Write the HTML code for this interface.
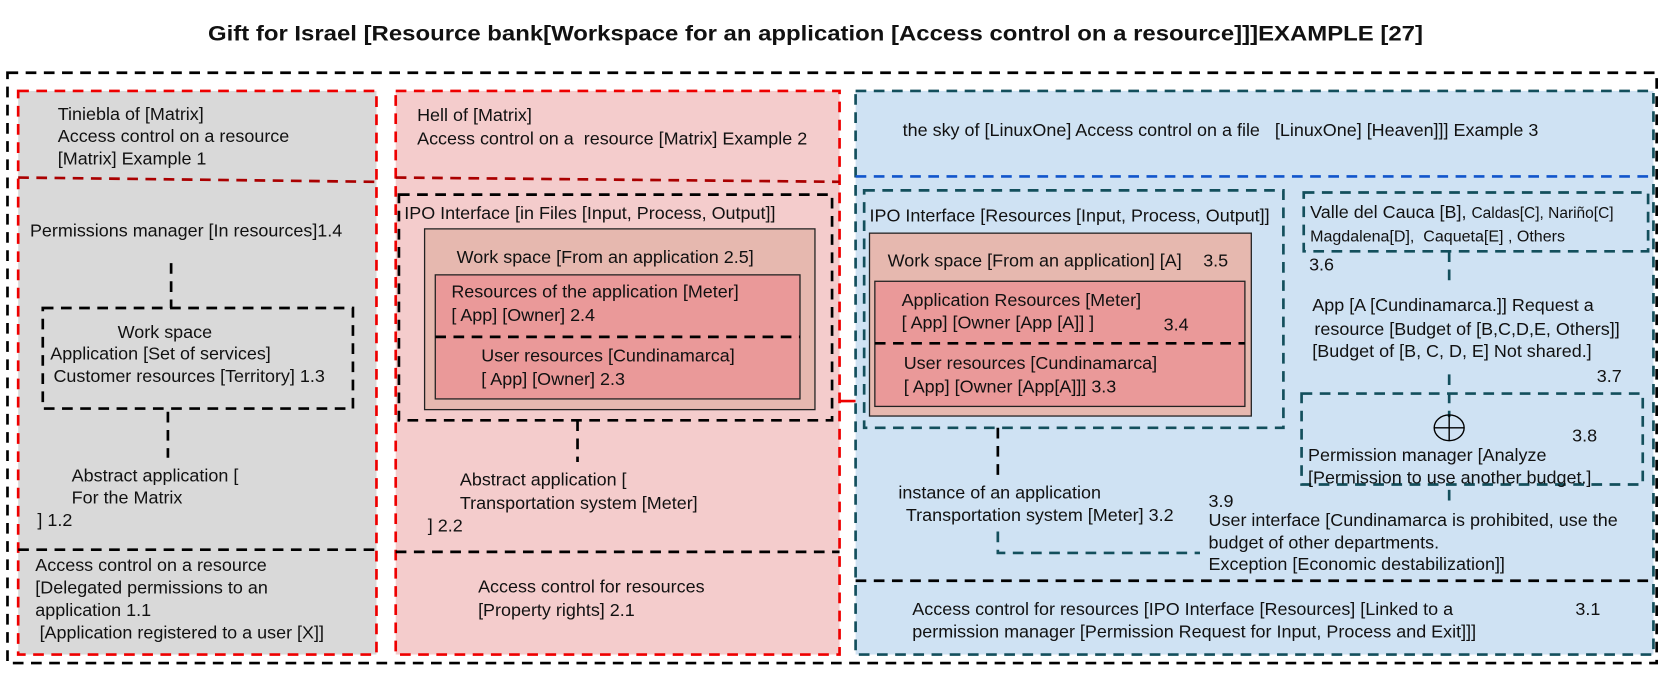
<!DOCTYPE html>
<html><head><meta charset="utf-8"><style>
body{margin:0;background:#fff;}
svg{display:block;font-family:"Liberation Sans",Arial,sans-serif;}
text{font-size:16.8px;fill:#111;}
</style></head><body>
<svg width="1677" height="677" viewBox="0 0 1677 677" xmlns="http://www.w3.org/2000/svg">
<g transform="scale(1.0695)">
<text x="194.5" y="38" textLength="1136" lengthAdjust="spacingAndGlyphs" style="font-size:19.5px;font-weight:bold">Gift for Israel [Resource bank[Workspace for an application [Access control on a resource]]]EXAMPLE [27]</text>
<rect x="7" y="68" width="1542" height="552" fill="none" stroke="#000" stroke-width="2.5" stroke-dasharray="10,7"/>

<!-- Panel 1 -->
<rect x="17" y="85" width="335" height="527" fill="#d9d9d9" stroke="#e00" stroke-width="2.5" stroke-dasharray="10,7"/>
<line x1="17" y1="166" x2="352" y2="170" stroke="#a00" stroke-width="2.5" stroke-dasharray="10,7"/>
<line x1="17" y1="514" x2="352" y2="514" stroke="#000" stroke-width="2.5" stroke-dasharray="10,7"/>
<text x="54" y="112">Tiniebla of [Matrix]</text>
<text x="54" y="133">Access control on a resource</text>
<text x="54" y="154">[Matrix] Example 1</text>
<text x="28" y="221">Permissions manager [In resources]1.4</text>
<line x1="160" y1="246" x2="160" y2="288" stroke="#000" stroke-width="2.5" stroke-dasharray="10,7"/>
<rect x="40" y="288" width="290" height="94" fill="none" stroke="#000" stroke-width="2.5" stroke-dasharray="10,7"/>
<text x="110" y="316">Work space</text>
<text x="47" y="336">Application [Set of services]</text>
<text x="50" y="357">Customer resources [Territory] 1.3</text>
<line x1="157" y1="385" x2="157" y2="428" stroke="#000" stroke-width="2.5" stroke-dasharray="10,7"/>
<text x="67" y="450">Abstract application [</text>
<text x="67" y="471">For the Matrix</text>
<text x="35" y="492">] 1.2</text>
<text x="33" y="534">Access control on a resource</text>
<text x="33" y="555">[Delegated permissions to an</text>
<text x="33" y="576">application 1.1</text>
<text x="37" y="597">[Application registered to a user [X]]</text>

<!-- Panel 2 -->
<rect x="370" y="85" width="415" height="527" fill="#f4cccc" stroke="#e00" stroke-width="2.5" stroke-dasharray="10,7"/>
<line x1="370" y1="166" x2="785" y2="170" stroke="#a00" stroke-width="2.5" stroke-dasharray="10,7"/>
<line x1="370" y1="516" x2="785" y2="516" stroke="#000" stroke-width="2.5" stroke-dasharray="10,7"/>
<text x="390" y="113">Hell of [Matrix]</text>
<text x="390" y="135" xml:space="preserve">Access control on a  resource [Matrix] Example 2</text>
<rect x="373" y="182" width="405" height="211" fill="none" stroke="#000" stroke-width="2.5" stroke-dasharray="10,7"/>
<text x="378" y="205">IPO Interface [in Files [Input, Process, Output]]</text>
<rect x="397" y="214" width="365" height="169" fill="#e6b8af" stroke="#222" stroke-width="1.2"/>
<text x="427" y="246">Work space [From an application 2.5]</text>
<rect x="407" y="257" width="341" height="116" fill="#ea9999" stroke="#222" stroke-width="1.2"/>
<text x="422" y="278">Resources of the application [Meter]</text>
<text x="422" y="300">[ App] [Owner] 2.4</text>
<line x1="407" y1="315" x2="748" y2="315" stroke="#000" stroke-width="2.5" stroke-dasharray="10,7"/>
<text x="450" y="338">User resources [Cundinamarca]</text>
<text x="450" y="360">[ App] [Owner] 2.3</text>
<line x1="540" y1="393" x2="540" y2="432" stroke="#000" stroke-width="2.5" stroke-dasharray="10,7"/>
<text x="430" y="454">Abstract application [</text>
<text x="430" y="476">Transportation system [Meter]</text>
<text x="400" y="497">] 2.2</text>
<text x="447" y="554">Access control for resources</text>
<text x="447" y="576">[Property rights] 2.1</text>
<line x1="785" y1="375" x2="800" y2="375" stroke="#e00" stroke-width="2.5"/>

<!-- Panel 3 -->
<rect x="800" y="85" width="746" height="527" fill="#cfe2f3" stroke="#134f5c" stroke-width="2.5" stroke-dasharray="10,7"/>
<line x1="800" y1="165" x2="1546" y2="165" stroke="#1155cc" stroke-width="2.5" stroke-dasharray="10,7"/>
<line x1="800" y1="543" x2="1546" y2="543" stroke="#000" stroke-width="2.5" stroke-dasharray="10,7"/>
<text x="844" y="127" xml:space="preserve">the sky of [LinuxOne] Access control on a file   [LinuxOne] [Heaven]]] Example 3</text>
<rect x="808" y="178" width="392" height="222" fill="none" stroke="#134f5c" stroke-width="2.5" stroke-dasharray="10,7"/>
<text x="813" y="207">IPO Interface [Resources [Input, Process, Output]]</text>
<rect x="813" y="218" width="357" height="171" fill="#e6b8af" stroke="#222" stroke-width="1.2"/>
<text x="830" y="249">Work space [From an application] [A]</text>
<text x="1125" y="249">3.5</text>
<rect x="818" y="263" width="346" height="117" fill="#ea9999" stroke="#222" stroke-width="1.2"/>
<text x="843" y="286">Application Resources [Meter]</text>
<text x="843" y="307">[ App] [Owner [App [A]] ]</text>
<text x="1088" y="309">3.4</text>
<line x1="818" y1="321" x2="1164" y2="321" stroke="#000" stroke-width="2.5" stroke-dasharray="10,7"/>
<text x="845" y="345">User resources [Cundinamarca]</text>
<text x="845" y="367">[ App] [Owner [App[A]]] 3.3</text>
<line x1="933" y1="400" x2="933" y2="445" stroke="#000" stroke-width="2.5" stroke-dasharray="10,7"/>
<polyline points="933,497 933,517 1122,517" fill="none" stroke="#134f5c" stroke-width="2.5" stroke-dasharray="10,7"/>
<text x="840" y="466">instance of an application</text>
<text x="847" y="487">Transportation system [Meter] 3.2</text>

<rect x="1219" y="180" width="322" height="55" fill="none" stroke="#134f5c" stroke-width="2.5" stroke-dasharray="10,7"/>
<text x="1225" y="204">Valle del Cauca [B], <tspan style="font-size:14.5px">Caldas[C], Nariño[C]</tspan></text>
<text x="1225" y="226" style="font-size:15px" xml:space="preserve">Magdalena[D],  Caqueta[E] , Others</text>
<text x="1224" y="253">3.6</text>
<line x1="1355" y1="235" x2="1355" y2="268" stroke="#134f5c" stroke-width="2.5" stroke-dasharray="10,7"/>
<text x="1227" y="291">App [A [Cundinamarca.]] Request a</text>
<text x="1229" y="313">resource [Budget of [B,C,D,E, Others]]</text>
<text x="1227" y="334">[Budget of [B, C, D, E] Not shared.]</text>
<text x="1493" y="357">3.7</text>
<line x1="1355" y1="350" x2="1355" y2="390" stroke="#134f5c" stroke-width="2.5" stroke-dasharray="10,7"/>
<rect x="1217" y="368" width="319" height="85" fill="none" stroke="#134f5c" stroke-width="2.5" stroke-dasharray="10,7"/>
<ellipse cx="1355" cy="400" rx="14" ry="12" fill="none" stroke="#000" stroke-width="1.3"/>
<line x1="1341" y1="400" x2="1369" y2="400" stroke="#000" stroke-width="1.3"/>
<line x1="1355" y1="388" x2="1355" y2="412" stroke="#000" stroke-width="1.3"/>
<text x="1470" y="413">3.8</text>
<text x="1223" y="431">Permission manager [Analyze</text>
<text x="1223" y="452">[Permission to use another budget.]</text>
<line x1="1355" y1="458" x2="1355" y2="475" stroke="#134f5c" stroke-width="2.5" stroke-dasharray="10,7"/>
<text x="1130" y="474">3.9</text>
<text x="1130" y="492">User interface [Cundinamarca is prohibited, use the</text>
<text x="1130" y="513">budget of other departments.</text>
<text x="1130" y="533">Exception [Economic destabilization]]</text>
<text x="853" y="575">Access control for resources [IPO Interface [Resources] [Linked to a</text>
<text x="853" y="596">permission manager [Permission Request for Input, Process and Exit]]]</text>
<text x="1473" y="575">3.1</text>
</g>
</svg>
</body></html>
